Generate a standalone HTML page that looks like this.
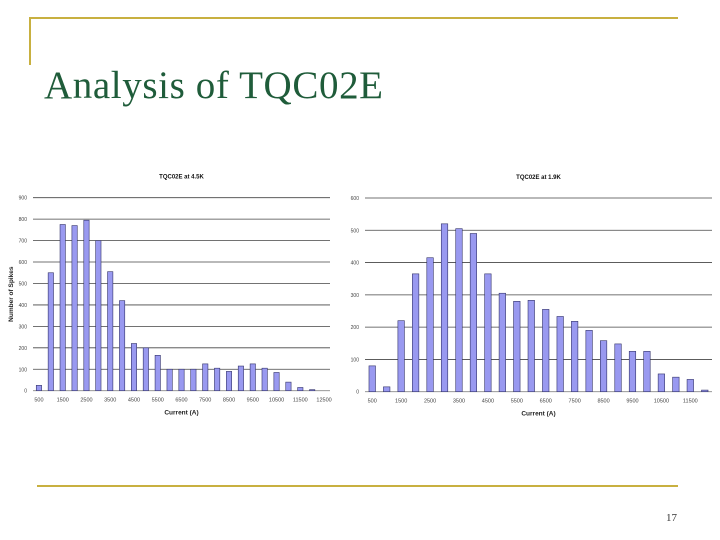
<!DOCTYPE html>
<html><head><meta charset="utf-8"><style>
body{margin:0;width:720px;height:540px;background:#fff;overflow:hidden;position:relative;font-family:"Liberation Sans",sans-serif}
</style></head><body>
<svg width="720" height="540" style="position:absolute;left:0;top:0">
<line x1="30" y1="18" x2="678" y2="18" stroke="#c8b040" stroke-width="2"/>
<line x1="30" y1="17" x2="30" y2="65" stroke="#c8b040" stroke-width="2"/>
<line x1="37" y1="486" x2="678" y2="486" stroke="#c8b040" stroke-width="2"/>
<text x="44" y="98" font-family="Liberation Serif, serif" font-size="39" textLength="339" fill="#1f5c3a">Analysis of TQC02E</text>
<text x="666" y="521" font-family="Liberation Serif, serif" font-size="11" fill="#333">17</text>
<g id="c1"></g><g id="c2"></g>
</svg>
<script>
const leftCats=[500,1000,1500,2000,2500,3000,3500,4000,4500,5000,5500,6000,6500,7000,7500,8000,8500,9000,9500,10000,10500,11000,11500,12000,12500];
const leftVals=[25,550,775,770,795,700,555,420,220,200,165,100,100,100,125,105,90,115,125,105,85,40,15,5,0];
const leftTicks=[0,100,200,300,400,500,600,700,800,900];
const rightCats=[500,1000,1500,2000,2500,3000,3500,4000,4500,5000,5500,6000,6500,7000,7500,8000,8500,9000,9500,10000,10500,11000,11500,12000];
const rightVals=[80,15,220,365,415,520,505,490,365,305,280,283,255,233,218,190,158,148,125,125,55,45,38,5];
const rightTicks=[0,100,200,300,400,500,600];
const NS="http://www.w3.org/2000/svg";
function mk(p,t,a,txt){const e=document.createElementNS(NS,t);for(const k in a)e.setAttribute(k,a[k]);if(txt!==undefined)e.textContent=txt;p.appendChild(e);return e;}
function chart(g,cats,vals,ticks,x0,x1,yTop,yBot,max,title,ylab){
  const y=v=>yBot-(v/max)*(yBot-yTop);
  const slot=(x1-x0)/cats.length;
  const t=mk(g,'text',{x:(x0+x1)/2,y:yTop-19,'font-size':6,'font-weight':'bold','text-anchor':'middle',fill:'#111'},title);
  
  
  ticks.forEach(v=>{
    const l=mk(g,'line',{x1:x0,x2:x1,y1:y(v),y2:y(v),stroke:v===0?'#888':'#444','stroke-width':0.8});
    
    
    const tl=mk(g,'text',{x:x0-6,y:y(v)+2,'font-size':5,'text-anchor':'end',fill:'#444'},v);
    
    
  });
  cats.forEach((c,i)=>{
    const cx=x0+slot*(i+0.5), w=slot*0.45, top=y(vals[i]);
    const b=mk(g,'rect',{x:cx-w/2,y:top,width:w,height:yBot-top,fill:'#9999f0',stroke:'#33336a','stroke-width':0.6});
    
    
    if(i%2===0){
      const xl=mk(g,'text',{x:cx,y:yBot+11,'font-size':5.5,'text-anchor':'middle',fill:'#444'},c);
      
      
    }
  });
  const xt=mk(g,'text',{x:(x0+x1)/2,y:yBot+24,'font-size':6.5,'font-weight':'bold','text-anchor':'middle',fill:'#222'},'Current (A)');
  
  
  if(ylab){
    const yt=mk(g,'text',{x:0,y:0,'font-size':6.5,'font-weight':'bold','text-anchor':'middle',fill:'#222',transform:`translate(13,${(yTop+yBot)/2}) rotate(-90)`},ylab);
    
    
  }
}
const c1=document.getElementById('c1');


const c2=document.getElementById('c2');


chart(c1,leftCats,leftVals,leftTicks,33,330,197.7,390.7,900,'TQC02E at 4.5K','Number of Spikes');
chart(c2,rightCats,rightVals,rightTicks,365,712,198,391.7,600,'TQC02E at 1.9K',null);
</script>
</body></html>
